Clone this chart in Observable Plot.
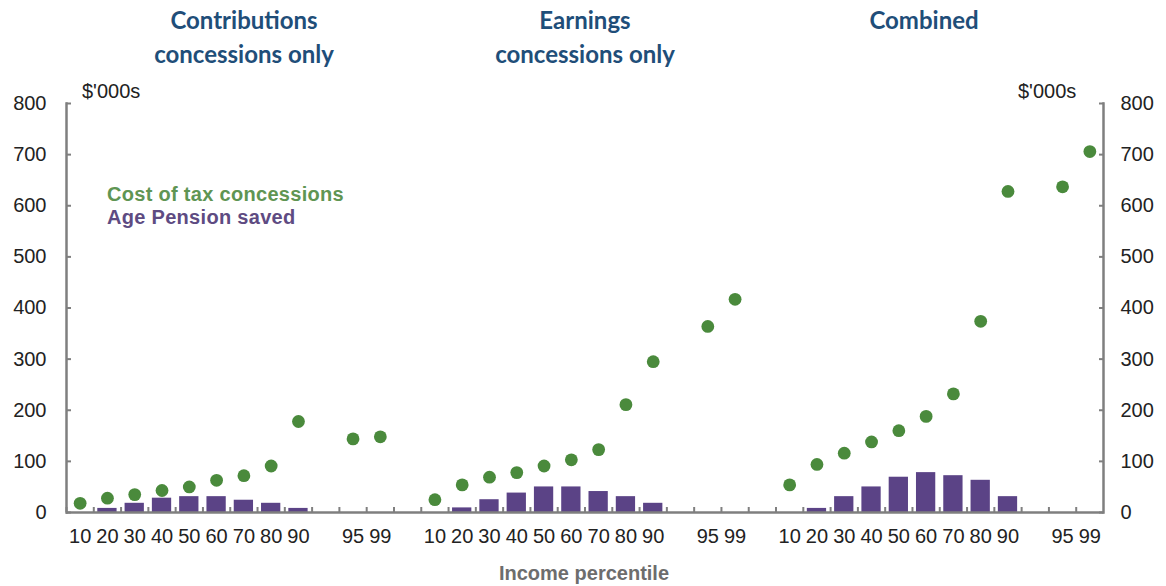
<!DOCTYPE html>
<html>
<head>
<meta charset="utf-8">
<script src="https://cdn.jsdelivr.net/npm/d3@7"></script>
<script src="https://cdn.jsdelivr.net/npm/@observablehq/plot@0.6"></script>
<style>
  html, body { margin: 0; padding: 0; background: #fff; }
  #wrap { position: relative; width: 1166px; height: 586px; overflow: hidden; font-family: Arial, "Liberation Sans", sans-serif; }
  #wrap svg { position: absolute; left: 0; top: 0; }
  .ttl { position: absolute; font-family: Lato, "Open Sans", sans-serif; font-weight: 700; font-size: 24px; color: #1f4e79; text-align: center; line-height: 34px; white-space: nowrap; transform: translateX(-50%); }
  .unit { position: absolute; font-size: 20px; color: #222; white-space: nowrap; }
  .leg { position: absolute; font-size: 20px; letter-spacing: 0.3px; font-weight: 700; white-space: nowrap; }
  .xlab { position: absolute; font-size: 20px; font-weight: 700; color: #6d6d6d; transform: translateX(-50%); white-space: nowrap; }
</style>
</head>
<body>
<div id="wrap"></div>
<script>
// ---- data (values in $'000s) ----
const panels = ["Contributions concessions only", "Earnings concessions only", "Combined"];
const percentiles = ["10", "20", "30", "40", "50", "60", "70", "80", "90", "95", "99"];
const contribCost    = [18, 28, 35, 43, 50, 63, 72, 91, 178, 144, 148];
const contribPension = [0, 8, 18, 28, 31, 31, 24, 18, 8, 0, 0];
const earnCost       = [25, 54, 69, 78, 91, 103, 123, 211, 295, 364, 417];
const earnPension    = [0, 9, 25, 38, 50, 50, 41, 31, 18, 0, 0];
const combCost       = [54, 94, 116, 138, 160, 188, 232, 374, 628, 637, 706];
const combPension    = [0, 8, 31, 50, 69, 78, 72, 63, 31, 0, 0];
const yTicks = [0, 100, 200, 300, 400, 500, 600, 700, 800];

const costs = [contribCost, earnCost, combCost];
const pensions = [contribPension, earnPension, combPension];

// slot layout: 10..90, blank, 95, 99 per panel; a blank separator between panels
const slotLabels = ["10", "20", "30", "40", "50", "60", "70", "80", "90", "", "95", "99"];
const keys = [];
panels.forEach((p, i) => {
  slotLabels.forEach((l, j) => keys.push(i + ":" + (l === "" ? "gap" : l)));
  if (i < panels.length - 1) keys.push("sep" + i);
});
const rows = [];
panels.forEach((p, i) => {
  percentiles.forEach((pc, j) => {
    rows.push({key: i + ":" + pc, panel: p, pct: pc, cost: costs[i][j], pension: pensions[i][j]});
  });
});
const fmt = k => { const m = String(k).split(":"); return (m.length === 2 && m[1] !== "gap") ? m[1] : ""; };

const W = 1166, H = 586, mL = 66, mR = 63, mT = 103, mB = 74;
const bw = (W - mL - mR) / keys.length;
const axisGray = "#7f7f7f";

const chart = Plot.plot({
  width: W, height: H,
  marginLeft: mL, marginRight: mR, marginTop: mT, marginBottom: mB,
  style: {fontFamily: "Arial, 'Liberation Sans', sans-serif", color: "#222", background: "transparent"},
  x: {type: "band", domain: keys, padding: 0, round: false, label: null},
  y: {domain: [0, 800], label: null},
  marks: [
    Plot.barY(rows, {x: "key", y: "pension", fill: "#5b4386", insetLeft: 4, insetRight: 4}),
    Plot.dot(rows, {x: "key", y: "cost", r: 6.4, fill: "#4a8a3c", stroke: "none"}),
    // axis lines
    Plot.ruleY([0], {stroke: axisGray, strokeWidth: 2.5}),
    Plot.frame({anchor: "left", stroke: axisGray, strokeWidth: 2.5}),
    Plot.frame({anchor: "right", stroke: axisGray, strokeWidth: 2.5}),
    // inward ticks
    Plot.axisY({anchor: "left", ticks: yTicks, tickSize: 5, dx: 5, tickFormat: () => "", stroke: axisGray, strokeWidth: 2, label: null}),
    Plot.axisY({anchor: "right", ticks: yTicks, tickSize: 5, dx: -5, tickFormat: () => "", stroke: axisGray, strokeWidth: 2, label: null}),
    Plot.axisX({anchor: "bottom", tickSize: 5, dy: -5, dx: -bw / 2, tickFormat: () => "", stroke: axisGray, strokeWidth: 2, label: null}),
    // labels
    Plot.axisY({anchor: "left", ticks: yTicks, tickSize: 0, tickPadding: 20, fontSize: 20, label: null}),
    Plot.axisY({anchor: "right", ticks: yTicks, tickSize: 0, tickPadding: 17, fontSize: 20, label: null}),
    Plot.axisX({anchor: "bottom", tickSize: 0, tickPadding: 16, fontSize: 20, tickFormat: fmt, label: null})
  ]
});

const wrap = document.getElementById("wrap");
wrap.appendChild(chart);

function addDiv(cls, html, css) {
  const d = document.createElement("div");
  d.className = cls; d.innerHTML = html;
  Object.assign(d.style, css);
  wrap.appendChild(d);
}
addDiv("ttl", "Contributions<br>concessions only", {left: "244px", top: "3px"});
addDiv("ttl", "Earnings<br>concessions only", {left: "585px", top: "3px"});
addDiv("ttl", "Combined", {left: "924px", top: "3px"});
addDiv("unit", "$'000s", {left: "82px", top: "80px"});
addDiv("unit", "$'000s", {left: "1018px", top: "80px"});
addDiv("leg", "Cost of tax concessions", {left: "107px", top: "183px", color: "#5f9553"});
addDiv("leg", "Age Pension saved", {left: "107px", top: "206px", color: "#5e4b82"});
addDiv("xlab", "Income percentile", {left: "584px", top: "562px"});
</script>
</body>
</html>
